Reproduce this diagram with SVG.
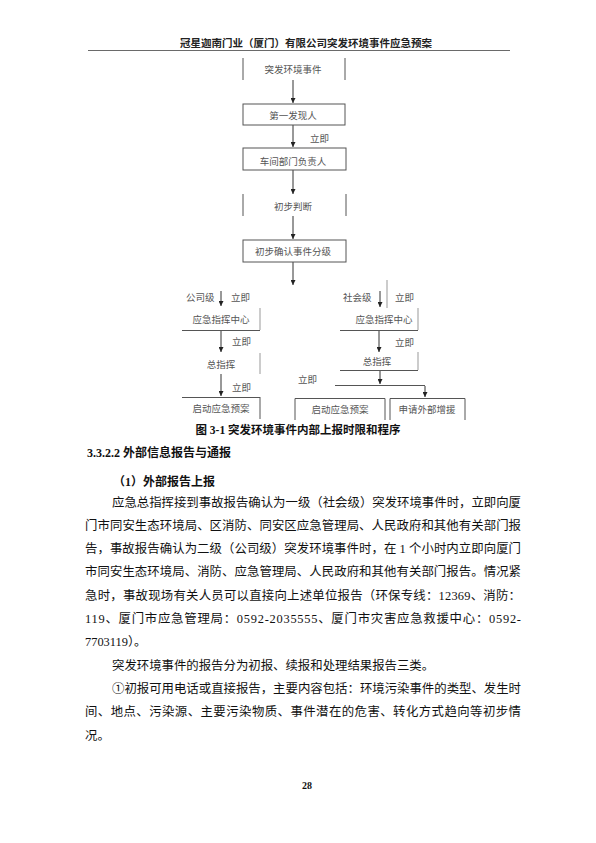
<svg xmlns="http://www.w3.org/2000/svg" width="596" height="843" viewBox="0 0 596 843">
<style>
.hd{font-family:"Noto Sans CJK SC",sans-serif;font-size:10.5px;font-weight:bold;fill:#222;text-anchor:middle}
.fc{font-family:"Noto Sans CJK SC",sans-serif;font-size:9.5px;fill:#555;text-anchor:middle;dominant-baseline:central}
.lb{font-family:"Noto Sans CJK SC",sans-serif;font-size:9.5px;fill:#555;dominant-baseline:central}
.bx{stroke:#555;stroke-width:1;fill:none}
.lt{stroke:#999;stroke-width:1;fill:none}
.cn{stroke:#333;stroke-width:1;fill:none;marker-end:url(#arr)}
.cap{font-family:"Liberation Serif","Noto Sans CJK SC",serif;font-size:11.5px;font-weight:bold;fill:#111;text-anchor:middle}
.h3{font-family:"Liberation Serif","Noto Sans CJK SC",serif;font-size:12px;font-weight:bold;fill:#111}
.bd{font-family:"Liberation Serif","Noto Sans CJK SC",serif;font-size:12.4px;fill:#111}
</style>
<defs>
<marker id="arr" viewBox="0 0 6 6" refX="6" refY="3" markerWidth="5" markerHeight="5" markerUnits="userSpaceOnUse" orient="auto">
<path d="M0,0 L6,3 L0,6 z" fill="#222"/>
</marker>
</defs>
<rect width="596" height="843" fill="#fff"/>
<g id="header">
<text class="hd" x="306" y="47">冠星迦南门业（厦门）有限公司突发环境事件应急预案</text>
<line x1="88" y1="50.5" x2="510" y2="50.5" stroke="#444" stroke-width="0.8"/>
</g>
<g id="connectors">
<line class="cn" x1="293" y1="80" x2="293" y2="103"/>
<line class="cn" x1="293" y1="125" x2="293" y2="147"/>
<line class="cn" x1="293" y1="170" x2="293" y2="194"/>
<line class="cn" x1="293" y1="216" x2="293" y2="239"/>
<line class="cn" x1="293" y1="262" x2="293" y2="285"/>
<line class="cn" x1="221" y1="291" x2="221" y2="306"/>
<line class="cn" x1="221" y1="331" x2="221" y2="352"/>
<line class="cn" x1="221" y1="374" x2="221" y2="396"/>
<line class="cn" x1="380" y1="291" x2="380" y2="307"/>
<line class="lt" x1="387" y1="280" x2="387" y2="308"/>
<line class="cn" x1="379" y1="331" x2="379" y2="352"/>
<line class="cn" x1="380" y1="371" x2="380" y2="384"/>
<line class="bx" x1="335" y1="385.5" x2="425" y2="385.5"/>
<line class="cn" x1="425" y1="386" x2="425" y2="397"/>
<text class="lb" x="310" y="138">立即</text>
<text class="lb" x="186" y="297">公司级</text>
<text class="lb" x="231" y="297">立即</text>
<text class="lb" x="232" y="341">立即</text>
<text class="lb" x="232" y="387">立即</text>
<text class="lb" x="343" y="297">社会级</text>
<text class="lb" x="395" y="297">立即</text>
<text class="lb" x="395" y="342">立即</text>
<text class="lb" x="298" y="379">立即</text>
</g>
<g id="n1">
<line class="bx" x1="243" y1="58" x2="243" y2="80"/>
<line class="bx" x1="345" y1="58" x2="345" y2="80"/>
<text class="fc" x="293" y="69">突发环境事件</text>
</g>
<g id="n2">
<rect class="bx" x="243" y="104" width="102" height="21"/>
<text class="fc" x="293" y="115">第一发现人</text>
</g>
<g id="n3">
<rect class="bx" x="243" y="148" width="103" height="22"/>
<text class="fc" x="293" y="161">车间部门负责人</text>
</g>
<g id="n4">
<line class="bx" x1="243" y1="194" x2="243" y2="216"/>
<line class="bx" x1="346" y1="194" x2="346" y2="216"/>
<text class="fc" x="293" y="206">初步判断</text>
</g>
<g id="n5">
<rect class="bx" x="243" y="240" width="103" height="22"/>
<text class="fc" x="293" y="251">初步确认事件分级</text>
</g>
<g id="n6">
<line class="bx" x1="182" y1="330.5" x2="260" y2="330.5"/>
<line class="lt" x1="260" y1="308" x2="260" y2="330"/>
<text class="fc" x="221" y="319">应急指挥中心</text>
</g>
<g id="n7">
<line class="lt" x1="260" y1="353" x2="260" y2="374"/>
<text class="fc" x="221" y="364">总指挥</text>
</g>
<g id="n8">
<line class="bx" x1="182" y1="397.5" x2="260" y2="397.5"/>
<line class="bx" x1="260" y1="397" x2="260" y2="419"/>
<text class="fc" x="221" y="408">启动应急预案</text>
</g>
<g id="n9">
<line class="bx" x1="340" y1="330.5" x2="418" y2="330.5"/>
<line class="lt" x1="418" y1="308" x2="418" y2="330"/>
<text class="fc" x="384" y="319">应急指挥中心</text>
</g>
<g id="n10">
<line class="bx" x1="340" y1="370.5" x2="418" y2="370.5"/>
<line class="lt" x1="418" y1="352" x2="418" y2="370"/>
<text class="fc" x="377" y="361">总指挥</text>
</g>
<g id="n11">
<path class="bx" d="M295,420 V398.5 H385 V420"/>
<text class="fc" x="340" y="409">启动应急预案</text>
</g>
<g id="n12">
<path class="bx" d="M390,420 V398.5 H465 V420"/>
<text class="fc" x="427" y="409">申请外部增援</text>
</g>
<g id="body">
<text class="cap" x="298" y="434">图 3-1 突发环境事件内部上报时限和程序</text>
<text class="h3" x="87" y="457">3.3.2.2 外部信息报告与通报</text>
<text class="h3" x="113" y="486">（1）外部报告上报</text>
<text class="bd" x="112" y="506.5" textLength="409" lengthAdjust="spacing">应急总指挥接到事故报告确认为一级（社会级）突发环境事件时，立即向厦</text>
<text class="bd" x="85" y="529.8" textLength="436" lengthAdjust="spacing">门市同安生态环境局、区消防、同安区应急管理局、人民政府和其他有关部门报</text>
<text class="bd" x="85" y="553.1" textLength="436" lengthAdjust="spacing">告，事故报告确认为二级（公司级）突发环境事件时，在 1 个小时内立即向厦门</text>
<text class="bd" x="85" y="576.4" textLength="436" lengthAdjust="spacing">市同安生态环境局、消防、应急管理局、人民政府和其他有关部门报告。情况紧</text>
<text class="bd" x="85" y="599.7" textLength="436" lengthAdjust="spacing">急时，事故现场有关人员可以直接向上述单位报告（环保专线：12369、消防：</text>
<text class="bd" x="85" y="623" textLength="436" lengthAdjust="spacing">119、厦门市应急管理局：0592-2035555、厦门市灾害应急救援中心：0592-</text>
<text class="bd" x="85" y="646.3">7703119）。</text>
<text class="bd" x="112" y="669.6">突发环境事件的报告分为初报、续报和处理结果报告三类。</text>
<text class="bd" x="112" y="692.9" textLength="409" lengthAdjust="spacing">①初报可用电话或直接报告，主要内容包括：环境污染事件的类型、发生时</text>
<text class="bd" x="85" y="716.2" textLength="436" lengthAdjust="spacing">间、地点、污染源、主要污染物质、事件潜在的危害、转化方式趋向等初步情</text>
<text class="bd" x="85" y="739.5">况。</text>
<text class="h3" x="302" y="789" style="font-size:10px">28</text>
</g>
</svg>
